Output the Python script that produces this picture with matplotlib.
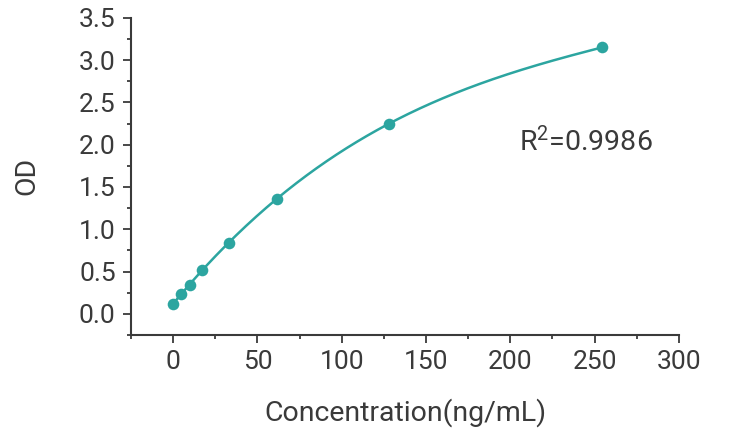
import matplotlib
matplotlib.use("Agg")
import matplotlib.pyplot as plt
from matplotlib.ticker import MultipleLocator
import numpy as np

# standard curve data
conc = [0, 4.9, 10, 17.2, 32.9, 61.5, 128.2, 254.4]
od = [0.12, 0.24, 0.34, 0.52, 0.84, 1.36, 2.25, 3.15]
r2_label = "R$^2$=0.9986"

TEAL = "#2ca5a0"
GREY = "#3a3a3a"

plt.rcParams["font.family"] = ["Roboto", "DejaVu Sans"]
plt.rcParams["mathtext.default"] = "regular"

fig = plt.figure(figsize=(7.42, 4.46), dpi=100)
ax = fig.add_axes([0.1765, 0.249, 0.7385, 0.711])

# smooth fitted curve through the points
coef = np.polyfit(conc, od, 3)
xs = np.linspace(min(conc), max(conc), 300)
ax.plot(xs, np.polyval(coef, xs), color=TEAL, lw=1.8, zorder=2)
ax.scatter(conc, od, s=70, color=TEAL, zorder=3, linewidths=0)

ax.text(205, 2.03, r2_label, fontsize=20.5, color=GREY, ha="left", va="center")

ax.set_xlim(-25, 300)
ax.set_ylim(-0.25, 3.5)
ax.xaxis.set_major_locator(MultipleLocator(50))
ax.xaxis.set_minor_locator(MultipleLocator(25))
ax.yaxis.set_major_locator(MultipleLocator(0.5))
ax.yaxis.set_minor_locator(MultipleLocator(0.25))
ax.yaxis.set_major_formatter(matplotlib.ticker.FormatStrFormatter("%.1f"))

for s in ["top", "right"]:
  ax.spines[s].set_visible(False)
for s in ["left", "bottom"]:
  ax.spines[s].set_color(GREY)
  ax.spines[s].set_linewidth(1.5)

ax.tick_params(which="major", length=6, width=1.3, color=GREY,
               labelsize=19, labelcolor=GREY, pad=5)
ax.tick_params(which="minor", length=3, width=1.3, color=GREY)

ax.set_xlabel("Concentration(ng/mL)", fontsize=20.5, color=GREY, labelpad=17)
ax.set_ylabel("OD", fontsize=20.5, color=GREY, labelpad=28)

fig.savefig("out.png", dpi=100)
